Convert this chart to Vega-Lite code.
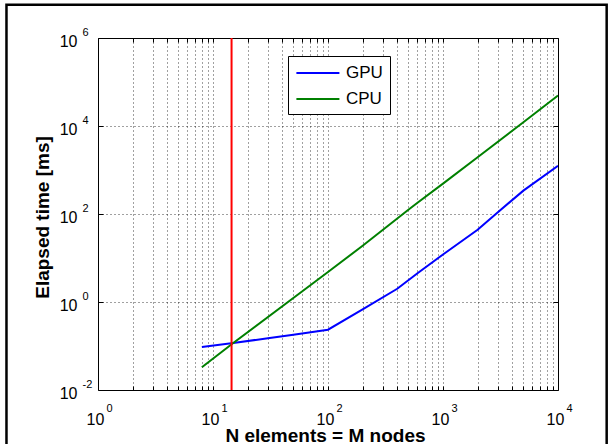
{
  "$schema": "https://vega.github.io/schema/vega-lite/v6.json",
  "width": 460,
  "height": 352,
  "autosize": {"type": "none"},
  "padding": {"left": 98, "top": 38, "right": 56, "bottom": 54},
  "background": "white",
  "config": {
    "view": {"stroke": "#000", "strokeWidth": 1},
    "font": "Liberation Sans",
    "axis": {
      "domain": false,
      "labelFont": "Liberation Sans",
      "titleFont": "Liberation Sans",
      "labelColor": "#000",
      "titleColor": "#000",
      "tickColor": "#000",
      "gridColor": "#000",
      "gridDash": [1, 3],
      "gridOpacity": 0.75,
      "gridWidth": 1,
      "labelFlush": false,
      "labelOverlap": false,
      "labelBound": false
    }
  },
  "datasets": {
    "series": [
      {"n": 8, "t": 0.095, "series": "GPU"},
      {"n": 15, "t": 0.117, "series": "GPU"},
      {"n": 30, "t": 0.15, "series": "GPU"},
      {"n": 50, "t": 0.18, "series": "GPU"},
      {"n": 100, "t": 0.235, "series": "GPU"},
      {"n": 200, "t": 0.68, "series": "GPU"},
      {"n": 400, "t": 2.0, "series": "GPU"},
      {"n": 600, "t": 4.5, "series": "GPU"},
      {"n": 1000, "t": 12, "series": "GPU"},
      {"n": 2000, "t": 44, "series": "GPU"},
      {"n": 3000, "t": 110, "series": "GPU"},
      {"n": 5000, "t": 340, "series": "GPU"},
      {"n": 10000, "t": 1250, "series": "GPU"},
      {"n": 8, "t": 0.033, "series": "CPU"},
      {"n": 15, "t": 0.117, "series": "CPU"},
      {"n": 100, "t": 4.8, "series": "CPU"},
      {"n": 200, "t": 19, "series": "CPU"},
      {"n": 500, "t": 125, "series": "CPU"},
      {"n": 600, "t": 180, "series": "CPU"},
      {"n": 1000, "t": 490, "series": "CPU"},
      {"n": 2000, "t": 1950, "series": "CPU"},
      {"n": 5000, "t": 12200, "series": "CPU"},
      {"n": 10000, "t": 49500, "series": "CPU"}
    ],
    "marker": [{"n": 14.5}],
    "frame": [{"k": 1}]
  },
  "layer": [
    {
      "data": {"name": "frame"},
      "mark": {"type": "rect", "filled": false, "stroke": "#000", "strokeWidth": 2.5, "clip": false},
      "encoding": {
        "x": {"datum": 0.16, "type": "quantitative", "scale": {"type": "log", "domain": [1, 10000], "nice": false}, "axis": null},
        "x2": {"datum": 26500},
        "y": {"datum": 5700000, "type": "quantitative", "scale": {"type": "log", "domain": [0.01, 1000000], "nice": false}, "axis": null},
        "y2": {"datum": 0.00053}
      }
    },
    {
      "data": {"name": "series"},
      "mark": {"type": "line", "strokeWidth": 2, "clip": true},
      "encoding": {
        "x": {
          "field": "n", "type": "quantitative",
          "scale": {"type": "log", "domain": [1, 10000], "nice": false},
          "axis": {
            "orient": "bottom",
            "values": [1,2,3,4,5,6,7,8,9,10,20,30,40,50,60,70,80,90,100,200,300,400,500,600,700,800,900,1000,2000,3000,4000,5000,6000,7000,8000,9000,10000],
            "grid": true, "ticks": true, "tickSize": -4, "labels": false, "title": null
          }
        },
        "y": {
          "field": "t", "type": "quantitative",
          "scale": {"type": "log", "domain": [0.01, 1000000], "nice": false},
          "axis": {"orient": "left", "values": [1, 100, 10000], "grid": true, "ticks": true, "tickSize": -5, "labels": false, "title": null}
        },
        "color": {
          "field": "series", "type": "nominal",
          "scale": {"domain": ["GPU", "CPU"], "range": ["#0000ff", "#008000"]},
          "legend": {
            "title": null, "orient": "none", "legendX": 190, "legendY": 18,
            "symbolType": "M-1,0H4", "symbolSize": 296, "symbolStrokeWidth": 2, "symbolFillColor": "transparent",
            "labelFontSize": 17, "labelFont": "Liberation Sans", "labelColor": "#000",
            "strokeColor": "#000", "fillColor": "#fff", "padding": 7, "rowPadding": 8, "labelOffset": 31
          }
        }
      }
    },
    {
      "data": {"name": "marker"},
      "mark": {"type": "rule", "color": "#ff0000", "strokeWidth": 2},
      "encoding": {
        "x": {"field": "n", "type": "quantitative", "scale": {"type": "log", "domain": [1, 10000], "nice": false}, "axis": null}
      }
    },
    {
      "data": {"name": "series"},
      "mark": {"type": "point", "opacity": 0},
      "encoding": {
        "x": {
          "field": "n", "type": "quantitative",
          "scale": {"type": "log", "domain": [1, 10000], "nice": false},
          "axis": {
            "orient": "bottom", "values": [1, 10, 100, 1000, 10000], "ticks": false, "grid": false,
            "labelExpr": "'10'", "labelFontSize": 16, "labelAlign": "center", "labelBaseline": "alphabetic",
            "labelPadding": 34, "labelOffset": -3,
            "title": "N elements = M nodes", "titleFontSize": 19, "titleFontWeight": "bold",
            "titleBaseline": "alphabetic", "titleY": 51, "titleX": 227
          }
        },
        "y": {
          "field": "t", "type": "quantitative",
          "scale": {"type": "log", "domain": [0.01, 1000000], "nice": false},
          "axis": {
            "orient": "left", "values": [0.01, 1, 100, 10000, 1000000], "ticks": false, "grid": false,
            "labelExpr": "'10'", "labelFontSize": 16, "labelAlign": "right", "labelBaseline": "alphabetic",
            "labelPadding": 21, "labelOffset": 8,
            "title": "Elapsed time [ms]", "titleFontSize": 19, "titleFontWeight": "bold",
            "titleBaseline": "alphabetic", "titleX": -50, "titleY": 179
          }
        }
      }
    },
    {
      "data": {"name": "series"},
      "mark": {"type": "point", "opacity": 0},
      "encoding": {
        "x": {
          "field": "n", "type": "quantitative",
          "scale": {"type": "log", "domain": [1, 10000], "nice": false},
          "axis": {
            "orient": "bottom", "values": [1, 10, 100, 1000, 10000], "ticks": false, "grid": false,
            "labelExpr": "'' + round(log(datum.value) / LN10)", "labelFontSize": 11, "labelAlign": "left",
            "labelBaseline": "alphabetic", "labelPadding": 21, "labelOffset": 8, "title": null
          }
        },
        "y": {
          "field": "t", "type": "quantitative",
          "scale": {"type": "log", "domain": [0.01, 1000000], "nice": false},
          "axis": {
            "orient": "left", "values": [0.01, 1, 100, 10000, 1000000], "ticks": false, "grid": false,
            "labelExpr": "'' + round(log(datum.value) / LN10)", "labelFontSize": 11, "labelAlign": "left",
            "labelBaseline": "alphabetic", "labelPadding": 16, "labelOffset": -3, "title": null
          }
        }
      }
    },
    {
      "data": {"name": "series"},
      "mark": {"type": "point", "opacity": 0},
      "encoding": {
        "x": {
          "field": "n", "type": "quantitative",
          "scale": {"type": "log", "domain": [1, 10000], "nice": false},
          "axis": {
            "orient": "top",
            "values": [1,2,3,4,5,6,7,8,9,10,20,30,40,50,60,70,80,90,100,200,300,400,500,600,700,800,900,1000,2000,3000,4000,5000,6000,7000,8000,9000,10000],
            "grid": false, "ticks": true, "tickSize": -4, "labels": false, "title": null
          }
        },
        "y": {
          "field": "t", "type": "quantitative",
          "scale": {"type": "log", "domain": [0.01, 1000000], "nice": false},
          "axis": {"orient": "right", "values": [1, 100, 10000], "grid": false, "ticks": true, "tickSize": -5, "labels": false, "title": null}
        }
      }
    }
  ],
  "resolve": {"axis": {"x": "independent", "y": "independent"}}
}
